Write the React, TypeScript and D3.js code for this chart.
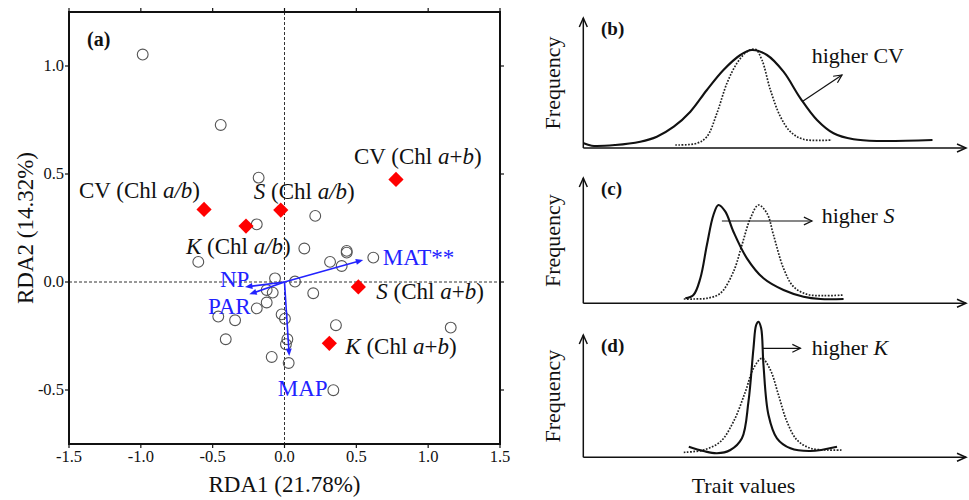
import React from "react";
import * as d3 from "d3";

// ---------- Panel (a): RDA ordination ----------
const siteX = [-0.987, -0.444, -0.18, -0.193, 0.214, 0.138, 0.433, 0.433, -0.6, 0.317, 0.398, 0.618, -0.066, 0.073, -0.124, -0.082, 0.2, -0.124, -0.193, -0.461, -0.344, -0.02, 0.003, 0.358, 1.157, -0.409, 0.02, 0.01, -0.089, 0.029, 0.34];
const siteY = [1.053, 0.727, 0.483, 0.267, 0.306, 0.155, 0.144, 0.136, 0.093, 0.093, 0.074, 0.113, 0.017, 0.002, -0.037, -0.049, -0.052, -0.095, -0.122, -0.16, -0.177, -0.15, -0.17, -0.2, -0.211, -0.265, -0.265, -0.288, -0.347, -0.375, -0.501];

const traitNames = ["CV (Chl a/b)", "K (Chl a/b)", "S (Chl a/b)", "CV (Chl a+b)", "S (Chl a+b)", "K (Chl a+b)"];
const traitX = [-0.56, -0.268, -0.026, 0.776, 0.514, 0.312];
const traitY = [0.336, 0.259, 0.333, 0.475, -0.023, -0.284];

const envNames = ["MAT**", "NP", "PAR", "MAP"];
const envX = [0.548, -0.275, -0.245, 0.033];
const envY = [0.102, -0.023, -0.057, -0.343];

const xTicks = [-1.5, -1.0, -0.5, 0.0, 0.5, 1.0, 1.5];
const yTicks = [-0.5, 0.0, 0.5, 1.0];

// ---------- Panels (b)-(d): conceptual trait distributions ----------
const bSolidX = [0.1, 2.2, 8.3, 14.8, 19.1, 23.5, 27.8, 32.1, 36.4, 40.8, 43.8, 47.7, 52.0, 56.4, 60.7, 65.0, 70.2, 77.1, 90.7];
const bSolidY = [0.047, 0.023, 0.03, 0.063, 0.113, 0.213, 0.363, 0.58, 0.78, 0.93, 0.98, 0.93, 0.763, 0.497, 0.28, 0.147, 0.087, 0.07, 0.08];
const bDotX = [23.9, 29.5, 32.1, 34.7, 37.3, 39.9, 42.5, 44.7, 46.4, 48.6, 51.2, 53.8, 57.2, 64.6];
const bDotY = [0.03, 0.047, 0.113, 0.347, 0.647, 0.847, 0.963, 0.987, 0.88, 0.58, 0.313, 0.163, 0.087, 0.08];

const cSolidX = [26.5, 28.6, 30.4, 32.1, 33.8, 35.1, 36.9, 39.0, 42.5, 46.8, 52.0, 57.2, 61.6, 67.6];
const cSolidY = [0.05, 0.083, 0.25, 0.583, 0.883, 0.983, 0.916, 0.716, 0.45, 0.25, 0.133, 0.066, 0.043, 0.043];
const cDotX = [26.1, 28.6, 32.1, 35.6, 39.0, 41.2, 43.4, 45.5, 47.7, 49.4, 52.0, 54.6, 58.1, 62.4, 67.6];
const cDotY = [0.043, 0.043, 0.05, 0.1, 0.316, 0.583, 0.85, 0.983, 0.9, 0.683, 0.35, 0.166, 0.09, 0.076, 0.083];

const dSolidX = [27.4, 31.2, 34.7, 38.2, 41.2, 42.9, 44.2, 44.9, 45.5, 46.2, 46.8, 48.1, 50.3, 53.8, 59.0, 65.9];
const dSolidY = [0.106, 0.063, 0.04, 0.073, 0.19, 0.556, 1.09, 1.323, 1.356, 1.29, 0.923, 0.423, 0.19, 0.09, 0.063, 0.106];
const dDotX = [26.1, 31.2, 35.6, 39.0, 42.1, 44.2, 46.4, 48.6, 50.7, 52.9, 55.5, 59.0, 63.3, 67.2];
const dDotY = [0.05, 0.073, 0.156, 0.356, 0.656, 0.89, 0.99, 0.873, 0.623, 0.356, 0.173, 0.09, 0.073, 0.073];

// annotation arrows [x1, y1, x2, y2] in panel data units
const bArrow = [56.8, 0.463, 67.2, 0.73];
const cArrow = [36.0, 0.823, 59.4, 0.823];
const dArrow = [46.4, 1.09, 56.4, 1.09];

const FONT = "'Liberation Serif', 'Times New Roman', serif";
const BLUE = "#2222ff";

function zip(xs: number[], ys: number[]): [number, number][] {
  return xs.map((x, i) => [x, ys[i]] as [number, number]);
}

function TraitLabel({ name, x, y, anchor }: { name: string; x: number; y: number; anchor?: string }) {
  const m = name.match(/^(\S+) \(Chl (a)([/+])(b)\)$/);
  if (!m) return null;
  const lead = m[1];
  const leadItalic = lead === "S" || lead === "K";
  return (
    <text x={x} y={y} fontSize={23} fontFamily={FONT} fill="#111" textAnchor={anchor || "start"}>
      <tspan fontStyle={leadItalic ? "italic" : "normal"}>{lead}</tspan>
      <tspan> (Chl </tspan>
      <tspan fontStyle="italic">a</tspan>
      <tspan fontStyle={m[3] === "/" ? "italic" : "normal"}>{m[3]}</tspan>
      <tspan fontStyle="italic">b</tspan>
      <tspan>)</tspan>
    </text>
  );
}

function MiniPanel({
  top, axisY, label, solid, dotted, arrow, text, textX, textY, italicWord,
}: {
  top: number; axisY: number; label: string; solid: [number, number][]; dotted: [number, number][];
  arrow: number[]; text: string; textX: number; textY: number; italicWord?: string;
}) {
  const x0 = 583.3;
  const xEnd = 966;
  const sx = d3.scaleLinear().domain([0, 100]).range([x0, x0 + 385]);
  const sy = d3.scaleLinear().domain([0, 1]).range([axisY, axisY - 100]);
  const line = d3.line<[number, number]>().x((d) => sx(d[0])).y((d) => sy(d[1])).curve(d3.curveCatmullRom.alpha(0.5));
  const ax1 = sx(arrow[0]), ay1 = sy(arrow[1]), ax2 = sx(arrow[2]), ay2 = sy(arrow[3]);
  const ang = Math.atan2(ay2 - ay1, ax2 - ax1);
  const hl = 9, ha = 0.45;
  const head = `M${ax2 - hl * Math.cos(ang - ha)},${ay2 - hl * Math.sin(ang - ha)} L${ax2},${ay2} L${ax2 - hl * Math.cos(ang + ha)},${ay2 - hl * Math.sin(ang + ha)}`;
  return (
    <g>
      <line x1={x0} y1={axisY} x2={x0} y2={top} stroke="#111" strokeWidth={1.5} />
      <path d={`M${x0 - 4},${top + 9} L${x0},${top} L${x0 + 4},${top + 9}`} fill="none" stroke="#111" strokeWidth={1.5} />
      <line x1={x0} y1={axisY} x2={xEnd} y2={axisY} stroke="#111" strokeWidth={1.5} />
      <path d={`M${xEnd - 9},${axisY - 4} L${xEnd},${axisY} L${xEnd - 9},${axisY + 4}`} fill="none" stroke="#111" strokeWidth={1.5} />
      <text x={601} y={top + 17} fontSize={19} fontWeight="bold" fontFamily={FONT} fill="#111">{label}</text>
      <text transform={`translate(560,${(top + axisY) / 2}) rotate(-90)`} textAnchor="middle" fontSize={22} fontFamily={FONT} fill="#111">Frequency</text>
      <path d={line(dotted) || ""} fill="none" stroke="#222" strokeWidth={1.7} strokeDasharray="1.7,1.5" />
      <path d={line(solid) || ""} fill="none" stroke="#111" strokeWidth={2.1} />
      <line x1={ax1} y1={ay1} x2={ax2} y2={ay2} stroke="#111" strokeWidth={1.2} />
      <path d={head} fill="none" stroke="#111" strokeWidth={1.2} />
      <text x={textX} y={textY} fontSize={22} fontFamily={FONT} fill="#111">
        {text}
        {italicWord ? <tspan fontStyle="italic">{italicWord}</tspan> : null}
      </text>
    </g>
  );
}

export default function App() {
  const W = 969, H = 500;
  const L = 69, R = 500, T = 12, B = 444;
  const x = d3.scaleLinear().domain([-1.5, 1.5]).range([L, R]);
  const y = d3.scaleLinear().domain([-0.75, 1.25]).range([B, T]);
  const tick = 4;

  const traitLabelPos: { dx: number; dy: number; anchor?: string }[] = [
    { dx: -4, dy: -11, anchor: "end" },
    { dx: -60, dy: 28 },
    { dx: -27, dy: -11 },
    { dx: -42, dy: -15 },
    { dx: 18, dy: 12 },
    { dx: 16, dy: 11 },
  ];
  const envLabelPos = [
    { x: 382.7, y: 265 },
    { x: 220, y: 287.3 },
    { x: 208, y: 314 },
    { x: 277.7, y: 395.7 },
  ];

  return (
    <svg width={W} height={H} style={{ position: "absolute", left: 0, top: 0, background: "#fff" }} fontFamily={FONT}>
      <rect x={0} y={0} width={W} height={H} fill="#fff" />
      {/* reference lines */}
      <line x1={x(0)} y1={T} x2={x(0)} y2={B} stroke="#333" strokeWidth={1} strokeDasharray="3,2" />
      <line x1={L} y1={y(0)} x2={R} y2={y(0)} stroke="#333" strokeWidth={1} strokeDasharray="3,2" />

      {/* frame */}
      <rect x={L} y={T} width={R - L} height={B - T} fill="none" stroke="#111" strokeWidth={2} />
      {xTicks.map((t) => (
        <g key={"xt" + t}>
          <line x1={x(t)} y1={B} x2={x(t)} y2={B + tick} stroke="#111" strokeWidth={1.2} />
          <line x1={x(t)} y1={T} x2={x(t)} y2={T - tick} stroke="#111" strokeWidth={1.2} />
          <text x={x(t)} y={462} textAnchor="middle" fontSize={16.5} fill="#111">{t.toFixed(1)}</text>
        </g>
      ))}
      {yTicks.map((t) => (
        <g key={"yt" + t}>
          <line x1={L} y1={y(t)} x2={L - tick} y2={y(t)} stroke="#111" strokeWidth={1.2} />
          <line x1={R} y1={y(t)} x2={R + tick} y2={y(t)} stroke="#111" strokeWidth={1.2} />
          <text x={L - 5} y={y(t) + 5} textAnchor="end" fontSize={16.5} fill="#111">{t.toFixed(1)}</text>
        </g>
      ))}
      <text x={(L + R) / 2} y={492} textAnchor="middle" fontSize={23} fill="#111">RDA1 (21.78%)</text>
      <text transform={`translate(33,${(T + B) / 2}) rotate(-90)`} textAnchor="middle" fontSize={23} fill="#111">RDA2 (14.32%)</text>
      <text x={87} y={46} fontSize={20} fontWeight="bold" fill="#111">(a)</text>

      {/* sites */}
      {siteX.map((sxv, i) => (
        <circle key={"s" + i} cx={x(sxv)} cy={y(siteY[i])} r={5.4} fill="none" stroke="#555" strokeWidth={1.1} />
      ))}

      {/* environmental arrows */}
      {envX.map((ex, i) => {
        const x1 = x(0), y1 = y(0), x2 = x(ex), y2 = y(envY[i]);
        const ang = Math.atan2(y2 - y1, x2 - x1);
        const hl = 8, ha = 0.38;
        const p = `M${x2},${y2} L${x2 - hl * Math.cos(ang - ha)},${y2 - hl * Math.sin(ang - ha)} L${x2 - hl * Math.cos(ang + ha)},${y2 - hl * Math.sin(ang + ha)} Z`;
        return (
          <g key={"e" + i}>
            <line x1={x1} y1={y1} x2={x2 - 5 * Math.cos(ang)} y2={y2 - 5 * Math.sin(ang)} stroke={BLUE} strokeWidth={1.6} />
            <path d={p} fill={BLUE} />
            <text x={envLabelPos[i].x} y={envLabelPos[i].y} fontSize={23} fill={BLUE}>{envNames[i]}</text>
          </g>
        );
      })}

      {/* trait markers */}
      {traitX.map((tx, i) => {
        const cx = x(tx), cy = y(traitY[i]);
        const s = 7.6;
        return (
          <g key={"t" + i}>
            <path d={`M${cx},${cy - s} L${cx + s},${cy} L${cx},${cy + s} L${cx - s},${cy} Z`} fill="#ff0000" />
            <TraitLabel name={traitNames[i]} x={cx + traitLabelPos[i].dx} y={cy + traitLabelPos[i].dy} anchor={traitLabelPos[i].anchor} />
          </g>
        );
      })}

      {/* right-hand panels */}
      <MiniPanel top={18} axisY={148} label="(b)" solid={zip(bSolidX, bSolidY)} dotted={zip(bDotX, bDotY)} arrow={bArrow} text="higher CV" textX={811.7} textY={63} />
      <MiniPanel top={178} axisY={303.3} label="(c)" solid={zip(cSolidX, cSolidY)} dotted={zip(cDotX, cDotY)} arrow={cArrow} text="higher " italicWord="S" textX={821.7} textY={223} />
      <MiniPanel top={335} axisY={457.3} label="(d)" solid={zip(dSolidX, dSolidY)} dotted={zip(dDotX, dDotY)} arrow={dArrow} text="higher " italicWord="K" textX={811.7} textY={355} />
      <text x={691.7} y={493} fontSize={22} fill="#111">Trait values</text>
    </svg>
  );
}
